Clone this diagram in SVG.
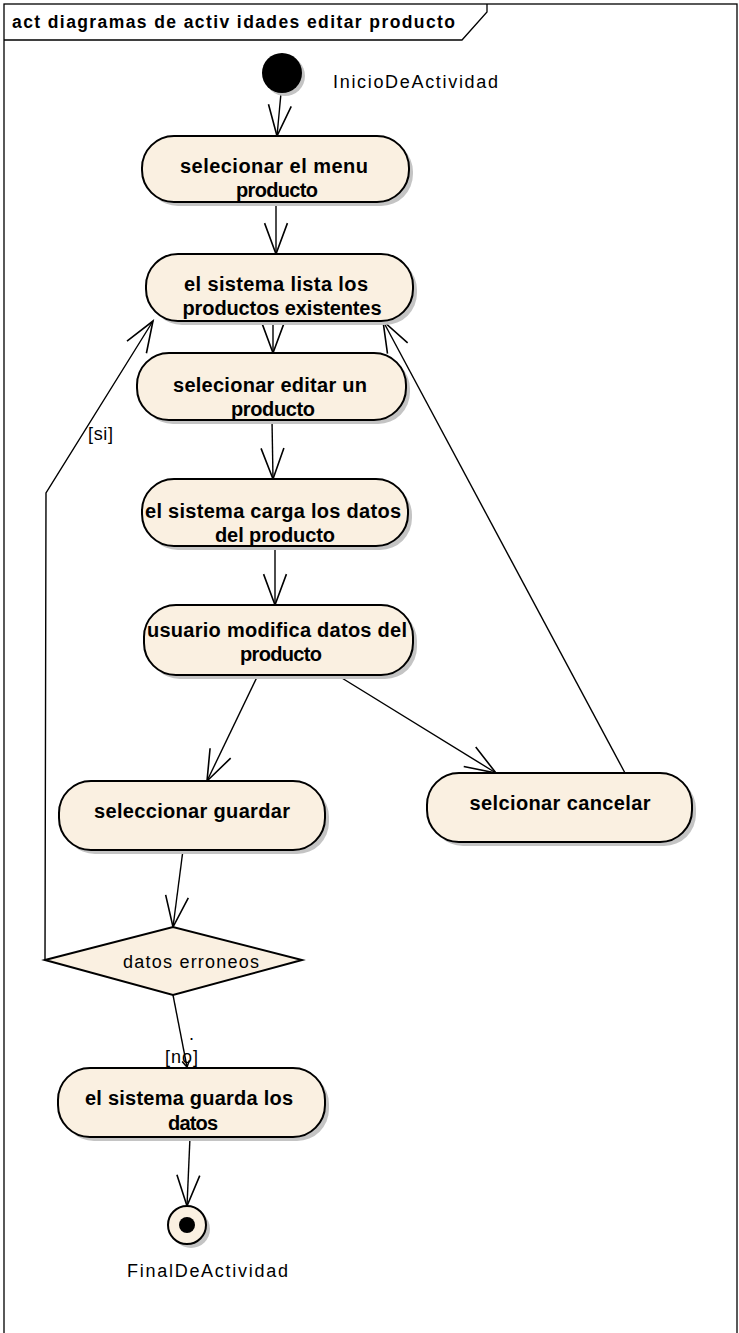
<svg xmlns="http://www.w3.org/2000/svg" width="739" height="1333" viewBox="0 0 739 1333">
<style>
.frame{fill:#fff;stroke:#000;stroke-width:1.3}
.act{fill:#FAF0E1;stroke:#000;stroke-width:2}
.shadow{fill:#c4c4c4;stroke:none}
.bt{font-family:"Liberation Sans",Arial,sans-serif;font-weight:bold;font-size:20px;fill:#000;text-anchor:middle}
.nt{font-family:"Liberation Sans",Arial,sans-serif;font-size:18px;fill:#000}
.edge{fill:none;stroke:#000;stroke-width:1.4}
</style>
<defs>
<marker id="arr" markerUnits="userSpaceOnUse" markerWidth="40" markerHeight="40" viewBox="-30 -15 35 30" refX="0" refY="0" orient="auto" overflow="visible">
<path d="M -27 -10 L 0 0 L -27 10" fill="none" stroke="#000" stroke-width="1.4"/>
</marker>
<marker id="arrs" markerUnits="userSpaceOnUse" markerWidth="10" markerHeight="10" viewBox="-6 -4 8 8" refX="0" refY="0" orient="auto" overflow="visible">
<path d="M -5 -3 L 0 0 L -5 3" fill="none" stroke="#000" stroke-width="1.2"/>
</marker>
</defs>
<rect x="0" y="0" width="739" height="1333" fill="#fff"/>
<g id="frame">
<rect class="frame" x="4" y="4" width="733" height="1340"/>
<path d="M4 40 L462 40 L487 12 L487 4" fill="none" stroke="#000" stroke-width="1.3"/>
<text x="12" y="28" font-family="Liberation Sans, Arial, sans-serif" font-weight="bold" font-size="17.5" textLength="443" lengthAdjust="spacing">act diagramas de activ idades editar producto</text>
</g>
<g id="connectors">
<line class="edge" x1="281" y1="93" x2="277" y2="136" marker-end="url(#arr)"/>
<line class="edge" x1="276" y1="202" x2="276" y2="254" marker-end="url(#arr)"/>
<line class="edge" x1="273" y1="321" x2="273" y2="353" marker-end="url(#arr)"/>
<line class="edge" x1="272" y1="420" x2="273" y2="479" marker-end="url(#arr)"/>
<line class="edge" x1="275" y1="546" x2="275" y2="605" marker-end="url(#arr)"/>
<line class="edge" x1="258" y1="675" x2="207" y2="781" marker-end="url(#arr)"/>
<line class="edge" x1="337" y1="675" x2="496" y2="773" marker-end="url(#arr)"/>
<line class="edge" x1="625" y1="773" x2="383" y2="321" marker-end="url(#arr)"/>
<line class="edge" x1="183" y1="850" x2="173" y2="927" marker-end="url(#arr)"/>
<polyline class="edge" points="45,960 46,493 153,321" marker-end="url(#arr)"/>
<line class="edge" x1="173" y1="995" x2="187" y2="1067" marker-end="url(#arrs)"/>
<line class="edge" x1="190" y1="1137" x2="187" y2="1206" marker-end="url(#arr)"/>
<text class="nt" x="88" y="440" textLength="25" lengthAdjust="spacing">[si]</text>
<text class="nt" x="189" y="1040" font-size="14">.</text>
<text class="nt" x="165" y="1063" textLength="33" lengthAdjust="spacing">[no]</text>
</g>
<g id="inicio">
<circle cx="285" cy="76" r="20" class="shadow"/>
<circle cx="282" cy="73" r="20" fill="#000"/>
<text class="nt" x="333" y="88" textLength="165" lengthAdjust="spacing">InicioDeActividad</text>
</g>
<g id="n1">
<rect class="shadow" x="146" y="140" width="267" height="66" rx="32"/>
<rect class="act" x="142" y="136" width="267" height="66" rx="32"/>
<text class="bt" x="274" y="173" textLength="188" lengthAdjust="spacing">selecionar el menu</text>
<text class="bt" x="277" y="197" textLength="82" lengthAdjust="spacing">producto</text>
</g>
<g id="n2">
<rect class="shadow" x="150" y="258" width="267" height="67" rx="32"/>
<rect class="act" x="146" y="254" width="267" height="67" rx="32"/>
<text class="bt" x="276" y="291" textLength="184" lengthAdjust="spacing">el sistema lista los</text>
<text class="bt" x="282" y="315" textLength="199" lengthAdjust="spacing">productos existentes</text>
</g>
<g id="n3">
<rect class="shadow" x="141" y="357" width="269" height="67" rx="32"/>
<rect class="act" x="137" y="353" width="269" height="67" rx="32"/>
<text class="bt" x="270" y="392" textLength="194" lengthAdjust="spacing">selecionar editar un</text>
<text class="bt" x="273" y="416" textLength="84" lengthAdjust="spacing">producto</text>
</g>
<g id="n4">
<rect class="shadow" x="146" y="483" width="266" height="67" rx="32"/>
<rect class="act" x="142" y="479" width="266" height="67" rx="32"/>
<text class="bt" x="273" y="518" textLength="256" lengthAdjust="spacing">el sistema carga los datos</text>
<text class="bt" x="275" y="542" textLength="120" lengthAdjust="spacing">del producto</text>
</g>
<g id="n5">
<rect class="shadow" x="148" y="609" width="269" height="70" rx="32"/>
<rect class="act" x="144" y="605" width="269" height="70" rx="32"/>
<text class="bt" x="277" y="637" textLength="260" lengthAdjust="spacing">usuario modifica datos del</text>
<text class="bt" x="281" y="661" textLength="82" lengthAdjust="spacing">producto</text>
</g>
<g id="guardar">
<rect class="shadow" x="63" y="785" width="266" height="69" rx="32"/>
<rect class="act" x="59" y="781" width="266" height="69" rx="32"/>
<text class="bt" x="192" y="818" textLength="196" lengthAdjust="spacing">seleccionar guardar</text>
</g>
<g id="cancelar">
<rect class="shadow" x="431" y="777" width="265" height="69" rx="32"/>
<rect class="act" x="427" y="773" width="265" height="69" rx="32"/>
<text class="bt" x="560" y="810" textLength="181" lengthAdjust="spacing">selcionar cancelar</text>
</g>
<g id="decision">
<polygon class="act" points="45,960 173,927 302,960 173,995" stroke-width="1.5"/>
<text class="nt" x="123" y="968" textLength="136" lengthAdjust="spacing">datos erroneos</text>
</g>
<g id="guarda">
<rect class="shadow" x="62" y="1072" width="267" height="69" rx="32"/>
<rect class="act" x="58" y="1068" width="267" height="69" rx="32"/>
<text class="bt" x="189" y="1105" textLength="208" lengthAdjust="spacing">el sistema guarda los</text>
<text class="bt" x="193" y="1130" textLength="50" lengthAdjust="spacing">datos</text>
</g>
<g id="final">
<circle cx="191" cy="1229" r="19" class="shadow"/>
<circle cx="187" cy="1225" r="19" fill="#FAF0E1" stroke="#000" stroke-width="2"/>
<circle cx="187" cy="1225" r="8" fill="#000"/>
<text class="nt" x="127" y="1277" textLength="161" lengthAdjust="spacing">FinalDeActividad</text>
</g>
</svg>
